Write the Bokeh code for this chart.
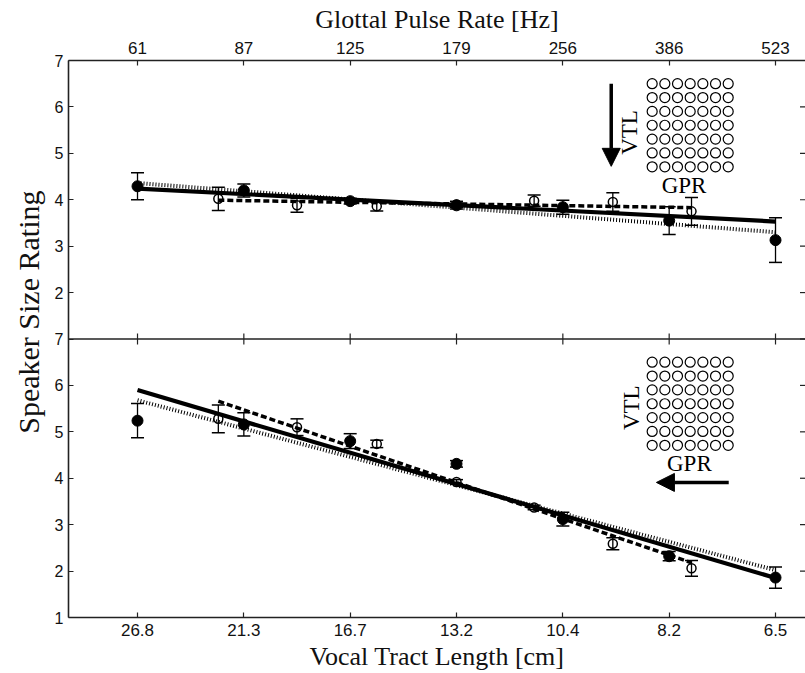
import numpy as np
from math import pi
from bokeh.plotting import figure
from bokeh.models import (Range1d, LinearAxis, FixedTicker, ColumnDataSource, Whisker,
                          TeeHead, Arrow, NormalHead, Label, Span, Title)
from bokeh.embed import file_html
from bokeh.resources import INLINE

# ---------------- data ----------------
tick_pos = [0, 1, 2, 3, 4, 5, 6]
vtl_labels = ["26.8", "21.3", "16.7", "13.2", "10.4", "8.2", "6.5"]
gpr_labels = ["61", "87", "125", "179", "256", "386", "523"]

filled_x = [0, 1, 2, 3, 4, 5, 6]
open_x = [0.76, 1.5, 2.25, 3.0, 3.73, 4.47, 5.21]

top_filled = [4.29, 4.2, 3.97, 3.88, 3.84, 3.55, 3.13]
top_filled_err = [0.29, 0.14, 0.06, 0.08, 0.15, 0.3, 0.48]
top_open = [4.02, 3.88, 3.86, 3.9, 3.98, 3.95, 3.75]
top_open_err = [0.25, 0.15, 0.1, 0.06, 0.12, 0.2, 0.3]

bot_filled = [5.24, 5.16, 4.8, 4.31, 3.12, 2.32, 1.86]
bot_filled_err = [0.37, 0.25, 0.16, 0.07, 0.15, 0.1, 0.23]
bot_open = [5.28, 5.1, 4.74, 3.92, 3.37, 2.59, 2.06]
bot_open_err = [0.3, 0.18, 0.08, 0.05, 0.05, 0.13, 0.17]

# regression lines (end points)
top_solid_x, top_solid_y = [0, 6], [4.24, 3.53]
top_dash_x, top_dash_y = [0.76, 5.21], [3.99, 3.83]
top_dot_x, top_dot_y = [0, 6], [4.36, 3.30]
bot_solid_x, bot_solid_y = [0, 6], [5.90, 1.85]
bot_dash_x, bot_dash_y = [0.76, 5.21], [5.66, 2.18]
bot_dot_x, bot_dot_y = [0, 6], [5.68, 2.02]

y_ticks = list(range(1, 14))
y_tick_labels = {t: str(t if t <= 7 else t - 6) for t in y_ticks}

SERIF = "Liberation Serif"
SANS = "Liberation Sans"
X_START, X_END = -0.649, 6.282

# ---------------- figure ----------------
p = figure(width=805, height=673, output_backend="svg", toolbar_location=None,
           x_range=Range1d(X_START, X_END), y_range=Range1d(1, 13),
           x_axis_location=None, y_axis_location=None,
           min_border_left=68, min_border_right=0, min_border_top=60, min_border_bottom=56)
p.extra_y_ranges = {"top": Range1d(-5, 7)}
p.grid.visible = False
p.outline_line_color = None
p.background_fill_color = "white"
p.border_fill_color = "white"


def style_axis(ax, s1, s2):
    ax.major_tick_in = 5
    ax.major_tick_out = 0
    ax.minor_tick_in = 0
    ax.minor_tick_out = 0
    ax.axis_line_color = "#222222"
    ax.axis_line_width = 1.6
    ax.major_tick_line_color = "#222222"
    ax.major_tick_line_width = 1.2
    ax.major_label_text_font = SANS
    ax.major_label_text_font_size = "17px"
    ax.major_label_text_color = "#111111"
    ax.major_label_standoff = s1
    ax.axis_label_text_font = SERIF
    ax.axis_label_text_font_size = "26px"
    ax.axis_label_text_font_style = "normal"
    ax.axis_label_text_color = "#111111"
    ax.axis_label_standoff = s2


xb = LinearAxis(ticker=FixedTicker(ticks=tick_pos),
                major_label_overrides={t: l for t, l in zip(tick_pos, vtl_labels)},
                axis_label="Vocal Tract Length [cm]")
style_axis(xb, 6, 3)
p.add_layout(xb, "below")

xt = LinearAxis(ticker=FixedTicker(ticks=tick_pos),
                major_label_overrides={t: l for t, l in zip(tick_pos, gpr_labels)},
                axis_label="Glottal Pulse Rate [Hz]")
style_axis(xt, 7, 5)
p.add_layout(xt, "above")

yl = LinearAxis(ticker=FixedTicker(ticks=y_ticks), major_label_overrides=y_tick_labels)
style_axis(yl, 5, 0)
yl.major_label_text_font_size = "16px"
p.add_layout(yl, "left")

# y axis title spanning both panels (placed in the left border)
p.add_layout(Title(text="Speaker Size Rating", align="right", offset=130, standoff=14,
                   text_font=SERIF, text_font_size="30px", text_font_style="normal",
                   text_color="#111111"), "left")

# right-hand inward ticks (frame edge lies at the picture's edge)
p.scatter([X_END] * len(y_ticks), y_ticks, marker="dash", size=11,
          line_color="#222222", line_width=1.2)

# separator between panels
p.add_layout(Span(location=7, dimension="width", line_color="#222222", line_width=1.6))
p.scatter(tick_pos, [7] * len(tick_pos), marker="dash", angle=pi / 2, size=11,
          line_color="#222222", line_width=1.2)


def panel(rng, fx, fy, fe, ox, oy, oe, sx, sy, dx, dy, tx, ty):
    kw = {} if rng == "default" else {"y_range_name": rng}
    # regression lines
    p.line(tx, ty, line_color="black", line_width=4, line_dash="1 2", **kw)
    p.line(dx, dy, line_color="black", line_width=3.5, line_dash="6 3", **kw)
    p.line(sx, sy, line_color="black", line_width=4.2, **kw)
    # error bars
    for xs, ys, es in ((fx, fy, fe), (ox, oy, oe)):
        src = ColumnDataSource(dict(x=xs, upper=[v + e for v, e in zip(ys, es)],
                                    lower=[v - e for v, e in zip(ys, es)]))
        w = Whisker(source=src, base="x", upper="upper", lower="lower",
                    line_color="black", line_width=1.3,
                    upper_head=TeeHead(size=13, line_width=1.5, line_color="black"),
                    lower_head=TeeHead(size=13, line_width=1.5, line_color="black"),
                    level="glyph", **kw)
        p.add_layout(w)
    # markers
    p.scatter(fx, fy, marker="circle", size=11, fill_color="black", line_color="black", **kw)
    p.scatter(ox, oy, marker="circle", size=9, fill_color=None, line_color="black",
              line_width=1.5, **kw)


panel("top", filled_x, top_filled, top_filled_err, open_x, top_open, top_open_err,
      top_solid_x, top_solid_y, top_dash_x, top_dash_y, top_dot_x, top_dot_y)
panel("default", filled_x, bot_filled, bot_filled_err, open_x, bot_open, bot_open_err,
      bot_solid_x, bot_solid_y, bot_dash_x, bot_dash_y, bot_dot_x, bot_dot_y)

# ---------------- insets (stimulus grid schematic) ----------------
inset_cols = np.linspace(4.84, 5.555, 7)
inset_rows = np.linspace(4.71, 6.5, 7)


def inset(rng):
    kw = {} if rng == "default" else {"y_range_name": rng}
    gx, gy = np.meshgrid(inset_cols, inset_rows)
    p.scatter(gx.ravel(), gy.ravel(), marker="circle", size=10, fill_color=None,
              line_color="black", line_width=1.2, **kw)


inset("top")
inset("default")

lab_kw = dict(text_font=SERIF, text_font_size="23px", text_color="black",
              text_align="center", text_baseline="middle")
p.add_layout(Label(x=4.63, y=5.45, text="VTL", angle=pi / 2, y_range_name="top", **lab_kw))
p.add_layout(Label(x=5.14, y=4.31, text="GPR", y_range_name="top", **lab_kw))
p.add_layout(Arrow(end=NormalHead(size=18, fill_color="black", line_color="black"),
                   x_start=4.455, y_start=6.5, x_end=4.455, y_end=4.72,
                   line_width=3.5, line_color="black", y_range_name="top"))

p.add_layout(Label(x=4.65, y=5.52, text="VTL", angle=pi / 2, **lab_kw))
p.add_layout(Label(x=5.19, y=4.32, text="GPR", **lab_kw))
p.add_layout(Arrow(end=NormalHead(size=18, fill_color="black", line_color="black"),
                   x_start=5.56, y_start=3.91, x_end=4.88, y_end=3.91,
                   line_width=3.5, line_color="black"))

open("out.html", "w").write(file_html(p, INLINE))
